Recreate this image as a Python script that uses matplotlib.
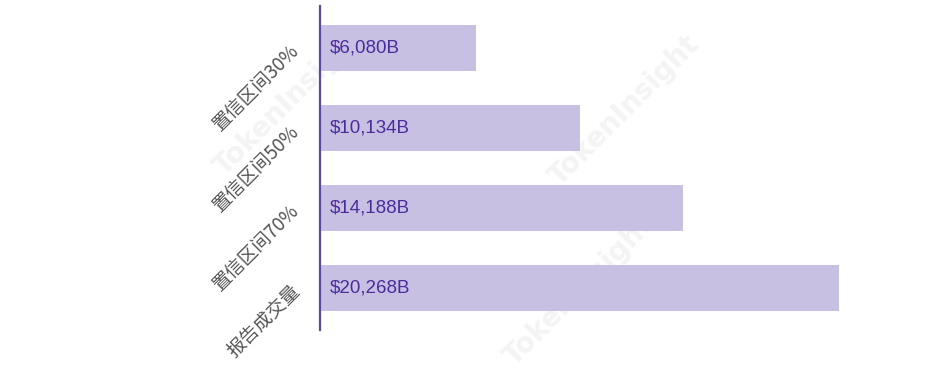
import matplotlib.pyplot as plt

# -------------------- Data -------------------- #
categories = ["置信区间30%", "置信区间50%", "置信区间70%", "报告成交量"]
values = [6080, 10134, 14188, 20268]
value_labels = ["$6,080B", "$10,134B", "$14,188B", "$20,268B"]

BAR_COLOR = "#c8c0e3"
TEXT_COLOR = "#4a2c9c"
AXIS_COLOR = "#5b4a9c"
LABEL_COLOR = "#555555"

plt.rcParams["font.family"] = ["Noto Sans CJK SC", "DejaVu Sans"]

fig = plt.figure(figsize=(9.48, 3.74), dpi=100)
ax = fig.add_axes([320 / 948, 1 - 330 / 374, 519 / 948, 324 / 374])
ax.set_zorder(1)

# faint watermark, drawn behind the axes
for (x, y) in [(290 / 948, 1 - 100 / 374), (625 / 948, 1 - 110 / 374),
               (580 / 948, 1 - 290 / 374)]:
    fig.text(x, y, "TokenInsight", fontsize=20, fontweight="bold",
             color="#f4f4f4", rotation=45, ha="center", va="center",
             family=["DejaVu Sans"], zorder=0)

ypos = list(range(len(categories)))
ax.barh(ypos, values, height=0.575, color=BAR_COLOR, zorder=2)

for y, lab in zip(ypos, value_labels):
    ax.text(0.019, y, lab, transform=ax.get_yaxis_transform(),
            color=TEXT_COLOR, fontsize=13.5, va="center", ha="left",
            family=["Liberation Sans"], zorder=3)

ax.set_xlim(0, max(values))
ax.set_ylim(len(categories) - 0.475, -0.525)
ax.set_yticks(ypos)
ax.set_yticklabels(categories, rotation=45, ha="right", va="center",
                   rotation_mode="anchor", color=LABEL_COLOR, fontsize=13.5,
                   fontweight="light")
ax.tick_params(axis="y", length=0, pad=17)
ax.set_xticks([])

for side in ["top", "right", "bottom"]:
    ax.spines[side].set_visible(False)
ax.spines["left"].set_color(AXIS_COLOR)
ax.spines["left"].set_linewidth(1.6)
ax.patch.set_alpha(0)

fig.savefig("out.png", dpi=100)
